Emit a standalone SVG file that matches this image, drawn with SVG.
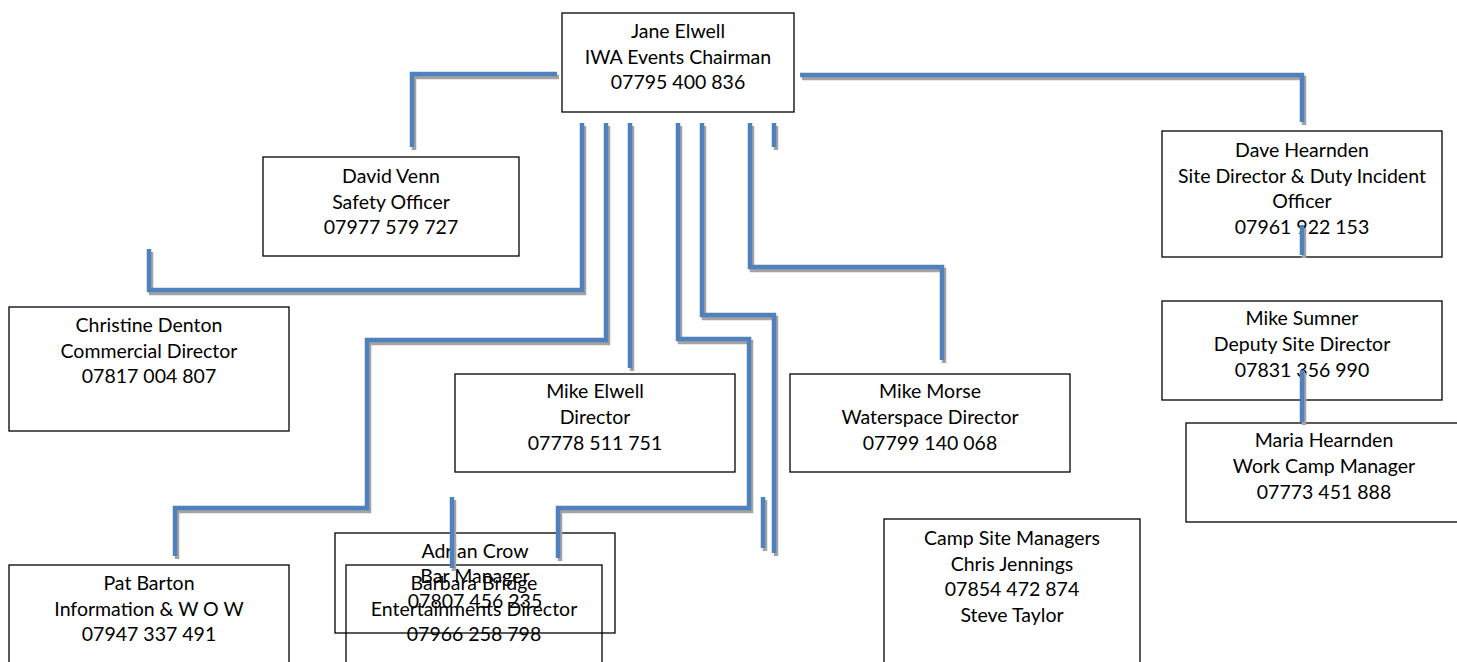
<svg xmlns="http://www.w3.org/2000/svg" width="1457" height="662" viewBox="0 0 1457 662">
<style>
.box{fill:none;stroke:#000;stroke-width:1.3}
text{font-family:Lato,"Liberation Sans",sans-serif;font-size:19.5px;fill:#000;text-anchor:middle}
.sh{fill:none;stroke:#a3a3a3;stroke-width:4.5;stroke-linejoin:miter}
.ln{fill:none;stroke:#4f81bd;stroke-width:4.5;stroke-linejoin:miter}
</style>
<defs>
<path id="c1" d="M557,74 H412 V147"/>
<path id="c2" d="M800,75 H1302 V122"/>
<path id="c3" d="M582,123 V290 H149 V249"/>
<path id="c4" d="M606,123 V340 H367 V508 H175 V556"/>
<path id="c5" d="M630,123 V368"/>
<path id="c6" d="M678,123 V339 H749 V508 H558 V558"/>
<path id="c7" d="M702,123 V315 H774 V553"/>
<path id="c8" d="M750,123 V267 H942 V360"/>
<path id="c9" d="M774,123 V147"/>
<path id="c10" d="M452,497 V568"/>
<path id="c11" d="M763,497 V548"/>
<path id="c12" d="M1302,225 V255"/>
<path id="c13" d="M1302,370 V422"/>
</defs>
<rect width="1457" height="662" fill="#fff"/>
<g id="jane"><rect class="box" x="562" y="13" width="232" height="99"/>
<text x="678" y="38">Jane Elwell</text><text x="678" y="63.5">IWA Events Chairman</text><text x="678" y="89">07795 400 836</text></g>
<g id="david"><rect class="box" x="263" y="157" width="256" height="99"/>
<text x="391" y="183">David Venn</text><text x="391" y="208.5">Safety Officer</text><text x="391" y="234">07977 579 727</text></g>
<g id="christine"><rect class="box" x="9" y="307" width="280" height="124"/>
<text x="149" y="332">Christine Denton</text><text x="149" y="357.5">Commercial Director</text><text x="149" y="383">07817 004 807</text></g>
<g id="dave"><rect class="box" x="1162" y="131" width="280" height="126"/>
<text x="1302" y="157">Dave Hearnden</text><text x="1302" y="182.5">Site Director &amp; Duty Incident</text><text x="1302" y="208">Officer</text><text x="1302" y="233.5">07961 922 153</text></g>
<g id="sumner"><rect class="box" x="1162" y="301" width="280" height="99"/>
<text x="1302" y="325">Mike Sumner</text><text x="1302" y="351">Deputy Site Director</text><text x="1302" y="377">07831 356 990</text></g>
<g id="maria"><rect class="box" x="1186" y="423" width="276" height="99"/>
<text x="1324" y="447">Maria Hearnden</text><text x="1324" y="473">Work Camp Manager</text><text x="1324" y="499">07773 451 888</text></g>
<g id="elwell"><rect class="box" x="455" y="374" width="280" height="98"/>
<text x="595" y="398">Mike Elwell</text><text x="595" y="424">Director</text><text x="595" y="450">07778 511 751</text></g>
<g id="morse"><rect class="box" x="790" y="374" width="280" height="98"/>
<text x="930" y="398">Mike Morse</text><text x="930" y="424">Waterspace Director</text><text x="930" y="450">07799 140 068</text></g>
<g id="pat"><rect class="box" x="9" y="565" width="280" height="110"/>
<text x="149" y="590">Pat Barton</text><text x="149" y="615.5">Information &amp; W O W</text><text x="149" y="641">07947 337 491</text></g>
<g id="adrian"><rect class="box" x="335" y="533" width="280" height="100"/>
<text x="475" y="558">Adrian Crow</text><text x="475" y="583">Bar Manager</text><text x="475" y="608">07807 456 235</text></g>
<g id="barbara"><rect class="box" x="346" y="565" width="256" height="110"/>
<text x="474" y="590">Barbara Bridge</text><text x="474" y="615.5">Entertainments Director</text><text x="474" y="641">07966 258 798</text></g>
<g id="camp"><rect class="box" x="884" y="519" width="256" height="160"/>
<text x="1012" y="545">Camp Site Managers</text><text x="1012" y="570.5">Chris Jennings</text><text x="1012" y="596">07854 472 874</text><text x="1012" y="621.5">Steve Taylor</text></g>
<g id="connectors">
<g transform="translate(2,3)" class="sh">
<use href="#c1"/><use href="#c2"/><use href="#c3"/><use href="#c4"/><use href="#c5"/><use href="#c6"/><use href="#c7"/><use href="#c8"/><use href="#c9"/><use href="#c10"/><use href="#c11"/><use href="#c12"/><use href="#c13"/>
</g>
<g class="ln">
<use href="#c1"/><use href="#c2"/><use href="#c3"/><use href="#c4"/><use href="#c5"/><use href="#c6"/><use href="#c7"/><use href="#c8"/><use href="#c9"/><use href="#c10"/><use href="#c11"/><use href="#c12"/><use href="#c13"/>
</g>
</g>
</svg>
